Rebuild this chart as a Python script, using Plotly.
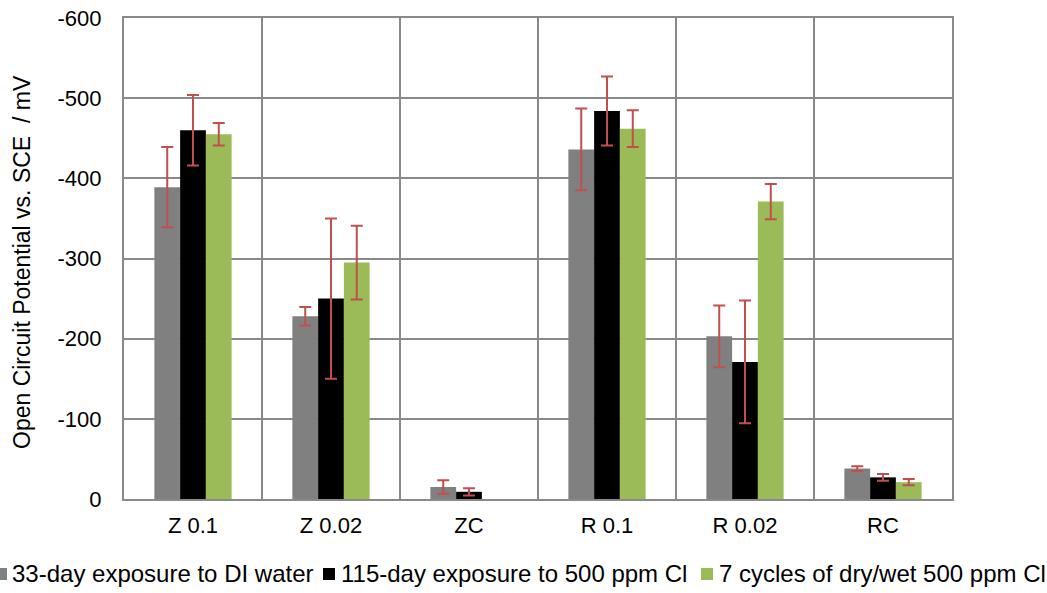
import plotly.graph_objects as go

categories = ["Z 0.1", "Z 0.02", "ZC", "R 0.1", "R 0.02", "RC"]
series_names = ["33-day exposure to DI water", "115-day exposure to 500 ppm Cl", "7 cycles of dry/wet 500 ppm Cl"]
di_water = [-389, -228, -15, -436, -203, -38]
di_water_err = [50, 11.5, 8.5, 51, 38.5, 3]
cl_115 = [-460, -250, -9, -484, -171, -27]
cl_115_err = [44, 100, 4.5, 43, 76.5, 4.3]
drywet = [-455, -295, 1.5, -462, -371, -21]
drywet_err = [14, 46, 0, 23, 22, 4]
y_ticks = [0, -100, -200, -300, -400, -500, -600]

colors = ["#808080", "#000000", "#9BBB59"]
err_color = "#C0504D"
grid_color = "#898989"
font = "Liberation Sans, Arial, sans-serif"

# plot area in pixels
L, R, T, B = 124, 952, 18, 499
W, H = R - L, B - T


def px_x(px):
    return (px - L) / W


def px_y(py):
    return (B - py) / H


fig = go.Figure()
for name, vals, errs, col in zip(series_names, [di_water, cl_115, drywet],
                                 [di_water_err, cl_115_err, drywet_err], colors):
    fig.add_trace(go.Bar(
        x=categories, y=vals, name=name, showlegend=False,
        marker=dict(color=col, line=dict(width=0)),
        error_y=dict(type="data", array=errs, visible=True, color=err_color,
                     thickness=2, width=6),
    ))

fig.update_layout(
    width=1047, height=593,
    barmode="group", bargap=0.44, bargroupgap=0,
    plot_bgcolor="white", paper_bgcolor="white",
    margin=dict(l=L, r=1047 - R, t=T, b=593 - B),
    font=dict(family=font, size=22, color="black"),
    showlegend=False,
    xaxis=dict(showline=True, linecolor=grid_color, linewidth=2, mirror=True,
               showgrid=False, ticks="", tickfont=dict(size=22), automargin=False,
               ticklabelstandoff=6),
    yaxis=dict(range=[0, -600], tickvals=y_ticks, ticktext=[str(v) for v in y_ticks],
               showgrid=True, gridcolor=grid_color, gridwidth=2,
               showline=True, linecolor=grid_color, linewidth=2, mirror=True,
               zeroline=False, ticks="", tickfont=dict(size=22), automargin=False,
               ticklabelstandoff=16),
)

# vertical category separators
for i in range(1, len(categories)):
    fig.add_shape(type="line", xref="x", yref="paper", x0=i - 0.5, x1=i - 0.5, y0=0, y1=1,
                  line=dict(color=grid_color, width=2), layer="below")

# y-axis title
fig.add_annotation(text="Open Circuit Potential vs. SCE  / mV", textangle=-90,
                   xref="paper", yref="paper", x=px_x(22), y=px_y(262),
                   xanchor="center", yanchor="middle", showarrow=False,
                   font=dict(size=23, family=font, color="black"))

# legend (manual, Excel-like compact keys)
legend_marker_px = [(-5, 7), (323, 335), (701, 713)]
legend_text_px = [10, 339, 717]
for (m0, m1), tx, name, col in zip(legend_marker_px, legend_text_px, series_names, colors):
    fig.add_shape(type="rect", xref="paper", yref="paper",
                  x0=px_x(m0), x1=px_x(m1), y0=px_y(580), y1=px_y(568),
                  fillcolor=col, line=dict(width=0))
    fig.add_annotation(text=name, xref="paper", yref="paper",
                       x=px_x(tx), y=px_y(573), xanchor="left", yanchor="middle",
                       showarrow=False, font=dict(size=24, family=font, color="black"))

fig.write_html("out.html", config={"displayModeBar": False},
               post_script="document.body.style.margin='0';document.body.style.overflow='hidden';")
